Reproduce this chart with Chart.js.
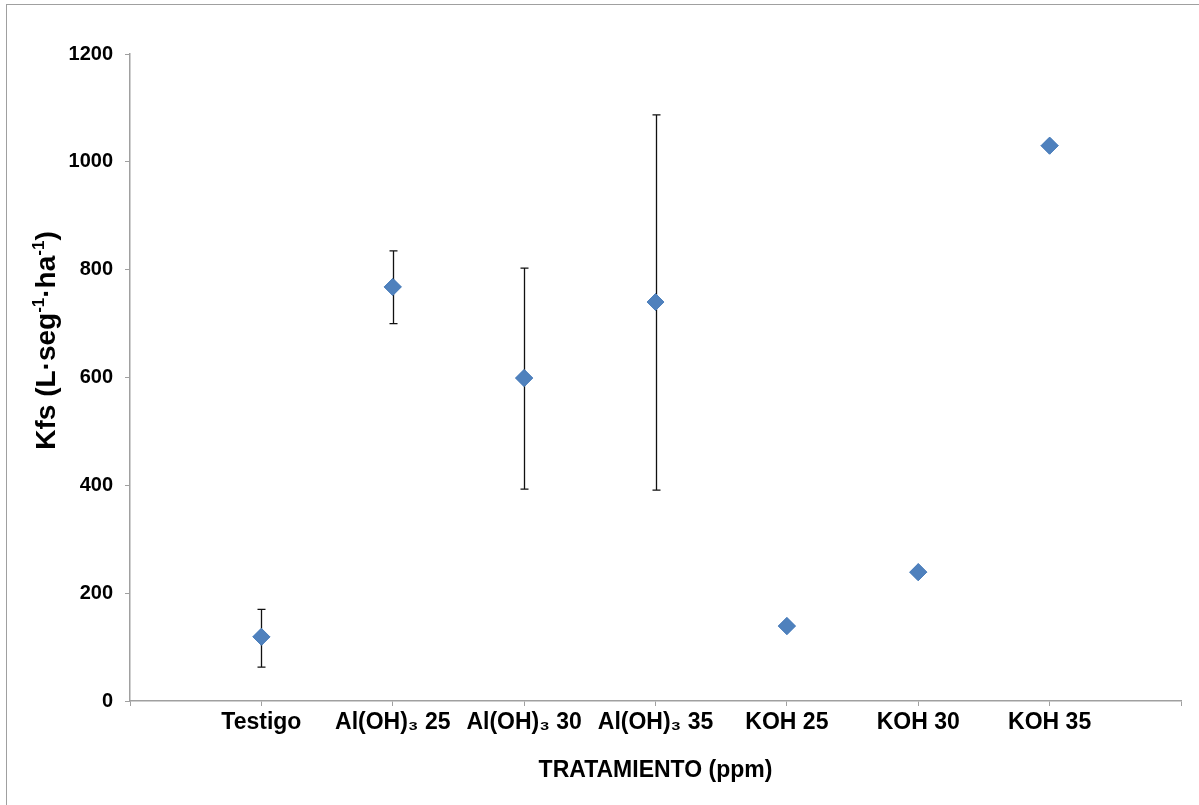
<!DOCTYPE html>
<html>
<head>
<meta charset="utf-8">
<script src="https://cdn.jsdelivr.net/npm/chart.js@4.4.1/dist/chart.umd.min.js"></script>
<style>
  body { margin: 0; background: #fff; }
  #wrap { width: 1199px; height: 805px; }
</style>
</head>
<body>
<div id="wrap"><canvas id="kfs"></canvas></div>
<script>
const categories = ["Testigo", "Al(OH)\u2083 25", "Al(OH)\u2083 30", "Al(OH)\u2083 35", "KOH 25", "KOH 30", "KOH 35"];
const kfs = [119, 768, 599, 740, 139, 239, 1030];
const errLow = [63, 700, 393, 391, null, null, null];
const errHigh = [170, 835, 803, 1087, null, null, null];
const yTicks = [0, 200, 400, 600, 800, 1000, 1200];

const FONT = "'Liberation Sans', Arial, sans-serif";

// frame round the chart (only top/left edges show in the original)
const frame = {
  id: "frame",
  beforeDraw(chart) {
    const c = chart.ctx;
    c.save();
    c.strokeStyle = "#a0a0a0";
    c.lineWidth = 1;
    c.strokeRect(6.5, 4.5, chart.width + 10, chart.height + 10);
    c.restore();
  }
};

// vertical error bars with caps
const errorBars = {
  id: "errorBars",
  afterDatasetsDraw(chart) {
    const c = chart.ctx;
    const xs = chart.scales.x, ys = chart.scales.y;
    c.save();
    c.strokeStyle = "#111";
    c.lineWidth = 1.3;
    kfs.forEach((v, i) => {
      if (errLow[i] == null) return;
      const x = Math.round(xs.getPixelForValue(i + 1)) + 0.5;
      const y1 = ys.getPixelForValue(errLow[i]);
      const y2 = ys.getPixelForValue(errHigh[i]);
      c.beginPath();
      c.moveTo(x, y1); c.lineTo(x, y2);
      c.moveTo(x - 4, y1); c.lineTo(x + 4, y1);
      c.moveTo(x - 4, y2); c.lineTo(x + 4, y2);
      c.stroke();
    });
    c.restore();
    // redraw points on top of the bars
    chart.getDatasetMeta(0).controller.draw();
  }
};

// y title with real superscripts
const yTitle = {
  id: "yTitle",
  afterDraw(chart) {
    const parts = [["Kfs (L\u00b7seg", 0], ["-1", 1], ["\u00b7ha", 0], ["-1", 1], [")", 0]];
    const c = chart.ctx;
    const big = "bold 28px " + FONT, small = "bold 17px " + FONT;
    c.save();
    let total = 0;
    parts.forEach(p => { c.font = p[1] ? small : big; total += c.measureText(p[0]).width; });
    const a = chart.chartArea;
    c.translate(55, (a.top + a.bottom) / 2 - 37);
    c.rotate(-Math.PI / 2);
    c.fillStyle = "#000";
    c.textBaseline = "alphabetic";
    let x = -total / 2;
    parts.forEach(p => {
      c.font = p[1] ? small : big;
      c.fillText(p[0], x, p[1] ? -11 : 0);
      x += c.measureText(p[0]).width;
    });
    c.restore();
  }
};

new Chart(document.getElementById("kfs"), {
  type: "scatter",
  data: {
    datasets: [
      {
        label: "Kfs",
        data: kfs.map((v, i) => ({ x: i + 1, y: v })),
        pointStyle: "rectRot",
        pointRadius: 8.5,
        pointHoverRadius: 8.5,
        backgroundColor: "#4f81bd",
        borderColor: "#4f81bd",
        borderWidth: 1,
      },
    ],
  },
  options: {
    responsive: true,
    maintainAspectRatio: false,
    animation: false,
    layout: { padding: { top: 54, right: 18, left: 0, bottom: 0 } },
    plugins: {
      legend: { display: false },
      tooltip: { enabled: false },
    },
    scales: {
      x: {
        type: "linear",
        min: 0,
        max: 8,
        afterFit: (s) => { s.height = 104; },
        afterBuildTicks: (s) => { s.ticks = [0, 1, 2, 3, 4, 5, 6, 7, 8].map(v => ({ value: v })); },
        ticks: {
          autoSkip: false,
          maxRotation: 0,
          padding: 3,
          color: "#000",
          font: { family: FONT, size: 23, weight: "bold" },
          callback: (v) => categories[v - 1] || "",
        },
        grid: { drawOnChartArea: false, tickLength: 5, color: "#a0a0a0" },
        border: { color: "#a0a0a0", width: 1.5 },
        title: {
          display: true,
          text: "TRATAMIENTO (ppm)",
          color: "#000",
          font: { family: FONT, size: 23, weight: "bold" },
          padding: { top: 0, bottom: 21 },
        },
      },
      y: {
        min: 0,
        max: 1200,
        afterFit: (s) => { s.width = 130; },
        afterBuildTicks: (s) => { s.ticks = yTicks.map(v => ({ value: v })); },
        ticks: {
          padding: 12,
          color: "#000",
          font: { family: FONT, size: 20, weight: "bold" },
          callback: (v) => String(v),
        },
        grid: { drawOnChartArea: false, tickLength: 5, color: "#a0a0a0" },
        border: { color: "#a0a0a0", width: 1.5 },
      },
    },
  },
  plugins: [frame, errorBars, yTitle],
});
</script>
</body>
</html>
